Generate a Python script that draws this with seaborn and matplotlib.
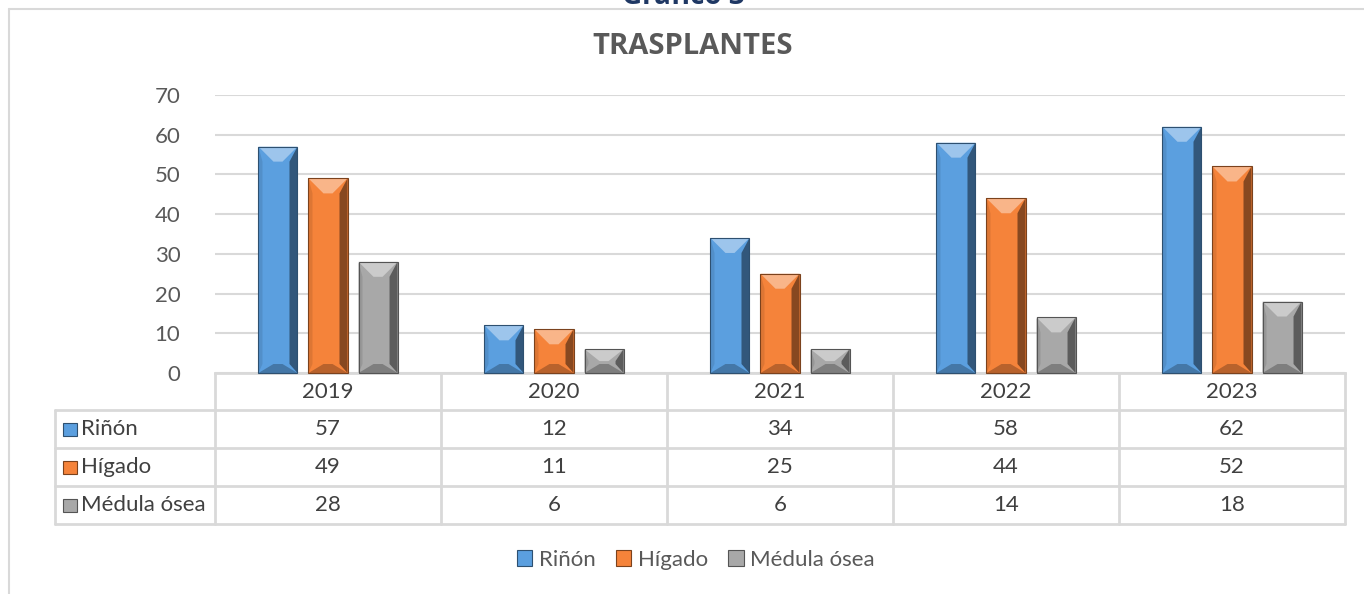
import pandas as pd
import seaborn as sns
import matplotlib.pyplot as plt
from matplotlib.patches import Rectangle, Polygon
from matplotlib.transforms import blended_transform_factory
import matplotlib.colors as mcolors

# ------------------------------
# Data
# ------------------------------
years = ["2019", "2020", "2021", "2022", "2023"]
series = ["Riñón", "Hígado", "Médula ósea"]
rinon = [57, 12, 34, 58, 62]
higado = [49, 11, 25, 44, 52]
medula = [28, 6, 6, 14, 18]
colors = ["#5B9FDF", "#F5833A", "#A8A8A8"]

values = [rinon, higado, medula]
df = pd.DataFrame({
    "Año": years * 3,
    "Tipo": [s for s in series for _ in years],
    "Valor": rinon + higado + medula,
})

# ------------------------------
# Figure
# ------------------------------
sns.set_style("white")
plt.rcParams['font.family'] = ['Lato', 'DejaVu Sans']
FS = 16
W, H = 1364, 594
fig = plt.figure(figsize=(W / 100, H / 100), dpi=100)
ax = fig.add_axes([215 / W, 1 - 373 / H, 1130 / W, 278 / H])

sns.barplot(data=df, x="Año", y="Valor", hue="Tipo", palette=colors,
            saturation=1, width=0.664, gap=0.22, legend=False, ax=ax,
            edgecolor="none", zorder=3)

ax.set_ylim(0, 70)
ax.set_xlim(-0.5, len(years) - 0.5)
ax.set_yticks(range(0, 71, 10))
ax.grid(axis="y", color="#D9D9D9", lw=1.5, zorder=0)
ax.tick_params(axis="y", length=0, pad=25, labelsize=FS, labelcolor="#595959")
ax.set_xticks([])
ax.set_xlabel("")
ax.set_ylabel("")
for s in ["top", "right", "left"]:
    ax.spines[s].set_visible(False)
ax.spines["bottom"].set_color("#D9D9D9")
ax.spines["bottom"].set_linewidth(2)

# ------------------------------
# Bevel effect on bars
# ------------------------------
def shade(c, f):
    r, g, b = mcolors.to_rgb(c)
    if f > 0:
        return (r + (1 - r) * f, g + (1 - g) * f, b + (1 - b) * f)
    return (r * (1 + f), g * (1 + f), b * (1 + f))

fig.canvas.draw()
for i, cont in enumerate(ax.containers):
    base = colors[i]
    for p in cont.patches:
        (x0, y0), (x1, y1) = ax.transData.transform(
            [(p.get_x(), p.get_y()), (p.get_x() + p.get_width(), p.get_y() + p.get_height())])
        t = min(15, (y1 - y0) / 2)
        tb = min(9, (y1 - y0) / 2)
        inx = min(15, (x1 - x0) / 2 - 4)
        polys = [
            ([(x0, y1), (x1, y1), (x1 - inx, y1 - t), (x0 + inx, y1 - t)], shade(base, 0.4)),
            ([(x0, y0), (x1, y0), (x1 - inx, y0 + tb), (x0 + inx, y0 + tb)], shade(base, -0.25)),
            ([(x0, y1), (x0 + 4, y1 - t), (x0 + 4, y0 + tb), (x0, y0)], shade(base, -0.1)),
            ([(x1, y1), (x1 - 8, y1 - t), (x1 - 8, y0 + tb), (x1, y0)], shade(base, -0.45)),
        ]
        for pts, c in polys:
            fig.patches.append(Polygon(pts, closed=True, facecolor=c, edgecolor="none",
                                       transform=None, zorder=4))
        fig.patches.append(Polygon([(x0, y0), (x1, y0), (x1, y1), (x0, y1)], closed=True,
                                   facecolor="none", edgecolor=shade(base, -0.5), lw=0.8,
                                   transform=None, zorder=5))

# ------------------------------
# Data table
# ------------------------------
tr = blended_transform_factory(ax.transData, fig.transFigure)
grid_c = "#D9D9D9"
text_c = "#404040"
y_head_top, y_head_bot = 1 - 373 / H, 1 - 410 / H
row_h = 38 / H
x_lab = 55 / W
x_key = 63 / W

def fy(px):
    return 1 - px / H

# column separators
for k in range(len(years) + 1):
    ax.plot([k - 0.5, k - 0.5], [y_head_top, y_head_bot - 3 * row_h], transform=tr,
            color=grid_c, lw=2, clip_on=False)
# horizontal lines
for r in range(4):
    yy = y_head_bot - r * row_h
    fig.add_artist(plt.Line2D([x_lab, 1345 / W], [yy, yy], color=grid_c, lw=2))
fig.add_artist(plt.Line2D([x_lab, x_lab], [y_head_bot, y_head_bot - 3 * row_h], color=grid_c, lw=2))

for k, yr in enumerate(years):
    ax.text(k, (y_head_top + y_head_bot) / 2, yr, transform=tr, ha="center", va="center",
            fontsize=FS, color=text_c)
for r, (name, vals) in enumerate(zip(series, values)):
    yc = y_head_bot - (r + 0.5) * row_h
    fig.patches.append(Rectangle((x_key, yc - 6.5 / H), 14 / W, 13 / H, transform=fig.transFigure,
                                 facecolor=colors[r], edgecolor=shade(colors[r], -0.5), lw=0.8))
    fig.text(81 / W, yc, name, ha="left", va="center", fontsize=FS, color=text_c)
    for k, v in enumerate(vals):
        ax.text(k, yc, str(v), transform=tr, ha="center", va="center", fontsize=FS, color=text_c)

# ------------------------------
# Legend, titles, frame
# ------------------------------
handles = [Rectangle((0, 0), 1, 1, facecolor=c, edgecolor=shade(c, -0.5), lw=0.8) for c in colors]
fig.legend(handles, series, loc="center", bbox_to_anchor=(696 / W, fy(560)), ncol=3,
           frameon=False, fontsize=FS, handlelength=0.7, handleheight=0.7,
           handletextpad=0.3, columnspacing=0.9, labelcolor="#595959")

fig.text(693 / W, fy(46), "TRASPLANTES", ha="center", va="center", fontsize=21,
         fontweight="bold", color="#595959", family=["Open Sans", "DejaVu Sans"])
fig.text(683 / W, fy(4), "Gráfico 3", ha="center", va="baseline", fontsize=20,
         fontweight="bold", color="#1F3864", family=["Open Sans", "DejaVu Sans"])

fig.add_artist(plt.Line2D([9 / W, 1], [fy(9), fy(9)], color="#D9D9D9", lw=1.5))
fig.add_artist(plt.Line2D([9 / W, 9 / W], [fy(9), 0], color="#D9D9D9", lw=1.5))

fig.savefig("out.png", dpi=100)
